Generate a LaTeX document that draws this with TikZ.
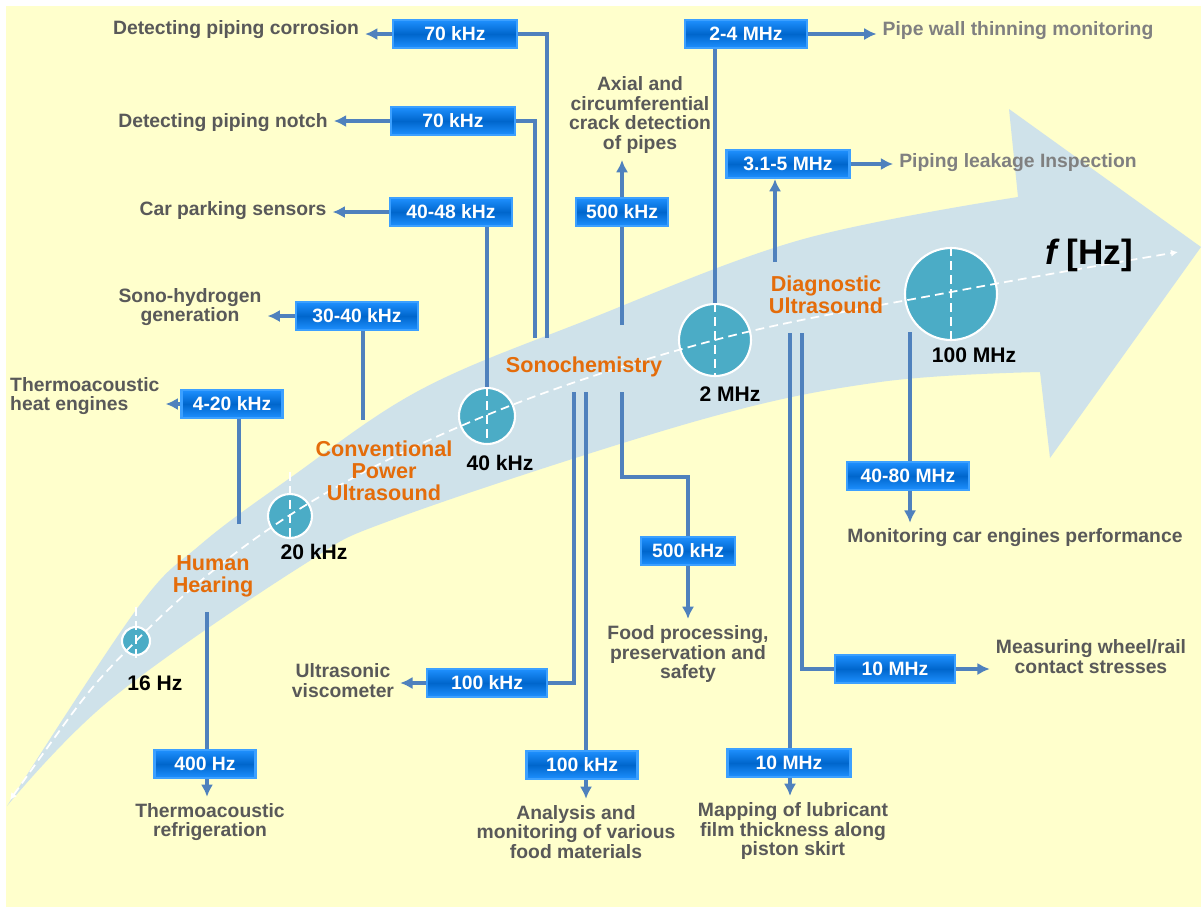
\documentclass[tikz,border=0pt]{standalone}
\usepackage{fontspec}
\setmainfont{Liberation Sans}
\usepackage{xcolor}
\usetikzlibrary{arrows.meta, positioning}

\definecolor{paper}{RGB}{255,255,204}
\definecolor{band}{RGB}{207,226,234}
\definecolor{bubblefill}{RGB}{75,172,198}
\definecolor{feedblue}{RGB}{79,129,189}
\definecolor{boxdark}{RGB}{0,102,204}
\definecolor{boxlight}{RGB}{30,144,255}
\definecolor{boxline}{RGB}{60,160,255}
\definecolor{appgray}{RGB}{89,89,89}
\definecolor{applight}{RGB}{128,128,128}
\definecolor{regorange}{RGB}{228,108,10}

\tikzset{
  freqbox/.style={draw=boxline, line width=1.2pt, shading=axis, top color=boxlight,
    bottom color=boxlight, middle color=boxdark, text=white, inner sep=0pt,
    font=\fontsize{11}{12}\selectfont\bfseries, minimum height=0.56cm},
  applabel/.style={text=appgray, align=center, font=\fontsize{11}{11.3}\selectfont\bfseries},
  regime/.style={text=regorange, align=center, font=\fontsize{12.3}{12.6}\selectfont\bfseries},
  hzlabel/.style={font=\fontsize{12}{14}\selectfont\bfseries},
  bubble/.style={circle, fill=bubblefill, draw=white, line width=1.2pt, inner sep=0pt},
  feed/.style={draw=feedblue, line width=1.9pt},
  feedarrow/.style={feed, -{Latex[length=7pt,width=7pt]}},
  axisdash/.style={white, line width=1pt, dash pattern=on 5pt off 3pt},
}

\begin{document}
\begin{tikzpicture}[x=0.02cm, y=-0.02cm]
  \useasboundingbox (0,0) rectangle (1201,907);
  \fill[white] (0,0) rectangle (1201,907);
  \fill[paper] (6,6) rectangle (1201,907);
  % the big curved arrow
  \fill[band] plot[smooth, tension=0.6] coordinates {(7,806) (136,610) (200,545) (290,478) (420,390) (587,320) (800,240) (1018,197)}
    -- (1009,109) -- (1201,247) -- (1050,458) -- (1040,372)
    -- plot[smooth, tension=0.6] coordinates {(1040,372) (880,382) (700,420) (400,517) (300,567) (110,700) (7,806)} -- cycle;
  %
  \node[bubble, minimum size=0.56cm] (c16) at (136,641) {};
  \node[bubble, minimum size=0.88cm] (c20k) at (290,516) {};
  \node[bubble, minimum size=1.12cm] (c40k) at (487,416) {};
  \node[bubble, minimum size=1.44cm] (c2M) at (715,340) {};
  \node[bubble, minimum size=1.84cm] (c100M) at (951,294) {};
  \draw[axisdash] (136,607) -- (136,663);
  \draw[axisdash] (290,472) -- (290,540);
  \draw[axisdash] (c40k.north) -- (c40k.south);
  \draw[axisdash] (c2M.north) -- (c2M.south);
  \draw[axisdash] (c100M.north) -- (c100M.south);
  \draw[axisdash, {Latex[length=4pt,width=4pt]}-{Latex[length=4pt,width=4pt]}] plot[smooth, tension=0.6]
    coordinates {(10,800) (136,641) (290,515) (487,415) (715,340) (951,292) (1178,252)};
  %
  \node[hzlabel] (f16) at (155,683) {16 Hz};
  \node[hzlabel] (f20k) at (314,552) {20 kHz};
  \node[hzlabel] (f40k) at (500,463) {40 kHz};
  \node[hzlabel] (f2M) at (730,394) {2 MHz};
  \node[hzlabel] (f100M) at (974,355) {100 MHz};
  \node[font=\fontsize{20}{22}\selectfont\bfseries] (fhz) at (1089,255) {\itshape f\upshape\ [Hz]};
  %
  \node[regime] (hearing) at (213,576) {Human\\Hearing};
  \node[regime] (power) at (384,471) {Conventional\\Power\\Ultrasound};
  \node[regime] (sono) at (584,367) {Sonochemistry};
  \node[regime] (diag) at (826,295) {Diagnostic\\Ultrasound};
  %
  \node[freqbox, minimum width=2.48cm] (b1) at (455,34) {70 kHz};
  \node[freqbox, minimum width=2.48cm] (b2) at (453,121) {70 kHz};
  \node[freqbox, minimum width=2.44cm] (b3) at (451,212) {40-48 kHz};
  \node[freqbox, minimum width=2.44cm] (b4) at (357,316) {30-40 kHz};
  \node[freqbox, minimum width=2.02cm] (b5) at (232,404) {4-20 kHz};
  \node[freqbox, minimum width=1.84cm] (b6) at (622,212) {500 kHz};
  \node[freqbox, minimum width=2.44cm] (b7) at (746,34) {2-4 MHz};
  \node[freqbox, minimum width=2.46cm] (b8) at (788,164) {3.1-5 MHz};
  \node[freqbox, minimum width=2.44cm] (b9) at (908,476) {40-80 MHz};
  \node[freqbox, minimum width=1.88cm] (b10) at (688,551) {500 kHz};
  \node[freqbox, minimum width=2.40cm] (b11) at (487,683) {100 kHz};
  \node[freqbox, minimum width=2.22cm] (b12) at (582,765) {100 kHz};
  \node[freqbox, minimum width=2.46cm] (b13) at (789,763) {10 MHz};
  \node[freqbox, minimum width=2.40cm] (b14) at (895,669) {10 MHz};
  \node[freqbox, minimum width=2.02cm] (b15) at (205,764) {400 Hz};
  %
  \node[applabel] (t1) at (236,30) {Detecting piping corrosion};
  \node[applabel] (t2) at (223,123) {Detecting piping notch};
  \node[applabel] (t3) at (233,211) {Car parking sensors};
  \node[applabel] (t4) at (190,307) {Sono-hydrogen\\generation};
  \node[applabel, align=left, anchor=west] (t5) at (4,396) {Thermoacoustic\\heat engines};
  \node[applabel] (t6) at (640,115) {Axial and\\circumferential\\crack detection\\of pipes};
  \node[applabel, text=applight] (t7) at (1018,31) {Pipe wall thinning monitoring};
  \node[applabel, text=applight] (t8) at (1018,163) {Piping leakage Inspection};
  \node[applabel] (t9) at (1015,538) {Monitoring car engines performance};
  \node[applabel] (t10) at (688,654) {Food processing,\\preservation and\\safety};
  \node[applabel] (t11) at (343,681) {Ultrasonic\\viscometer};
  \node[applabel] (t12) at (576,832) {Analysis and\\monitoring of various\\food materials};
  \node[applabel] (t13) at (793,831) {Mapping of lubricant\\film thickness along\\piston skirt};
  \node[applabel] (t14) at (1091,657) {Measuring wheel/rail\\contact stresses};
  \node[applabel] (t15) at (210,822) {Thermoacoustic\\refrigeration};
  %
  \coordinate (p1) at (547,338);
  \coordinate (p2) at (535,338);
  \coordinate (p4) at (363,420);
  \coordinate (p5) at (239,524);
  \coordinate (p6) at (622,325);
  \coordinate (p8) at (775,262);
  \coordinate (p9) at (910,332);
  \coordinate (p10) at (622,392);
  \coordinate (k10) at (688,477);
  \coordinate (p11) at (574,392);
  \coordinate (p12) at (586,392);
  \coordinate (p13) at (790,333);
  \coordinate (p14) at (802,333);
  \coordinate (p15) at (207,612);
  %
  \draw[feed] (p1) |- (b1.east);
  \draw[feedarrow] (b1.west) -- (b1.west -| t1.east);
  \draw[feed] (p2) |- (b2.east);
  \draw[feedarrow] (b2.west) -- (b2.west -| t2.east);
  \draw[feed] (c40k.north) -- (c40k.north |- b3.south);
  \draw[feedarrow] (b3.west) -- (b3.west -| t3.east);
  \draw[feed] (p4) -- (p4 |- b4.south);
  \draw[feedarrow] (b4.west) -- (b4.west -| t4.east);
  \draw[feed] (p5) -- (p5 |- b5.south);
  \draw[feedarrow] (b5.west) -- (b5.west -| t5.east);
  \draw[feed] (p6) -- (b6.south);
  \draw[feedarrow] (b6.north) -- (b6.north |- t6.south);
  \draw[feed] (c2M.north) -- (c2M.north |- b7.south);
  \draw[feedarrow] (b7.east) -- (b7.east -| t7.west);
  \draw[feedarrow] (p8) -- (p8 |- b8.south);
  \draw[feedarrow] (b8.east) -- (b8.east -| t8.west);
  \draw[feed] (p9) -- (p9 |- b9.north);
  \draw[feedarrow] (p9 |- b9.south) -- (p9 |- t9.north);
  \draw[feed] (p10) |- (k10) -- (b10.north);
  \draw[feedarrow] (b10.south) -- (t10.north);
  \draw[feed] (p11) |- (b11.east);
  \draw[feedarrow] (b11.west) -- (b11.west -| t11.east);
  \draw[feed] (p12) -- (p12 |- b12.north);
  \draw[feedarrow] (p12 |- b12.south) -- (p12 |- t12.north);
  \draw[feed] (p13) -- (p13 |- b13.north);
  \draw[feedarrow] (p13 |- b13.south) -- (p13 |- t13.north);
  \draw[feed] (p14) |- (b14.west);
  \draw[feedarrow] (b14.east) -- (b14.east -| t14.west);
  \draw[feed] (p15) -- (p15 |- b15.north);
  \draw[feedarrow] (p15 |- b15.south) -- (p15 |- t15.north);
\end{tikzpicture}
\end{document}
